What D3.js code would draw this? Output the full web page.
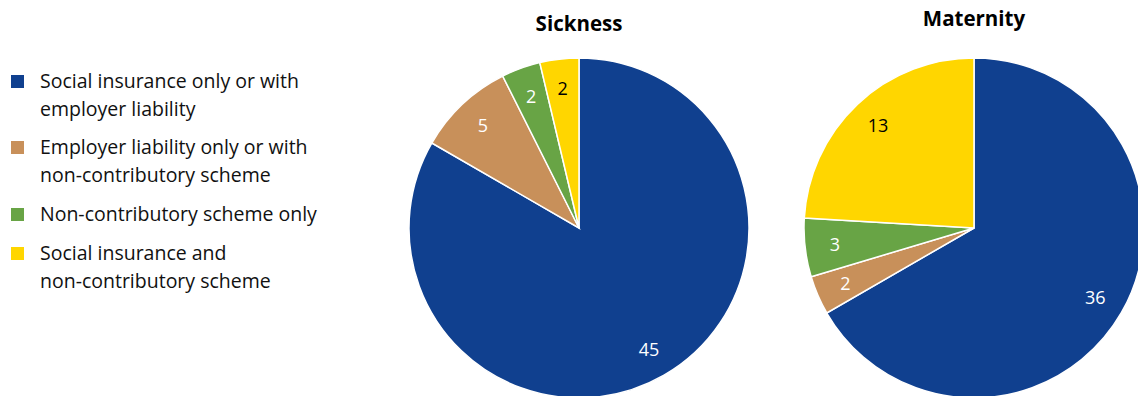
<!DOCTYPE html>
<html>
<head>
<meta charset="utf-8">
<script src="https://cdn.jsdelivr.net/npm/d3@7"></script>
<style>
  body { margin: 0; background: #fff; }
  svg { display: block; font-family: "Open Sans", sans-serif; }
</style>
</head>
<body>
<div id="chart"></div>
<script>
var w = 1138;
var h = 396;

// data
var categories = [
  ["Social insurance only or with", "employer liability"],
  ["Employer liability only or with", "non-contributory scheme"],
  ["Non-contributory scheme only"],
  ["Social insurance and", "non-contributory scheme"]
];
var colors = ["#10408F", "#C8905A", "#68A445", "#FFD600"];
var labelColors = ["#fff", "#fff", "#fff", "#000"];
var titles = ["Sickness", "Maternity"];
var sickness = [45, 5, 2, 2];
var maternity = [36, 2, 3, 13];

var svg = d3.select("#chart")
  .append("svg")
  .attr("width", w)
  .attr("height", h);

// legend
var legendY = [81, 147, 214, 253];
var legend = svg.append("g");
categories.forEach(function(lines, i) {
  legend.append("rect")
    .attr("x", 11)
    .attr("y", legendY[i] - 6)
    .attr("width", 13)
    .attr("height", 13)
    .attr("fill", colors[i]);
  lines.forEach(function(t, j) {
    legend.append("text")
      .attr("x", 40)
      .attr("y", legendY[i] + j * 28)
      .attr("dy", "0.35em")
      .attr("font-size", 19.5)
      .attr("fill", "#111")
      .text(t);
  });
});

// pies
var r = 170;
var pie = d3.pie().sort(null).value(function(d) { return d; });
var arc = d3.arc().innerRadius(0).outerRadius(r);
var labelArc = d3.arc().innerRadius(140).outerRadius(140);

var pies = [
  { title: titles[0], values: sickness, cx: 579, cy: 228, ty: 31 },
  { title: titles[1], values: maternity, cx: 974, cy: 228, ty: 26 }
];

pies.forEach(function(p) {
  svg.append("text")
    .attr("x", p.cx)
    .attr("y", p.ty)
    .attr("text-anchor", "middle")
    .attr("font-size", 20.5)
    .attr("font-weight", "bold")
    .attr("fill", "#000")
    .text(p.title);

  var g = svg.append("g")
    .attr("transform", "translate(" + p.cx + "," + p.cy + ")");

  var arcs = pie(p.values);

  g.selectAll("path")
    .data(arcs)
    .enter()
    .append("path")
    .attr("d", arc)
    .attr("fill", function(d, i) { return colors[i]; })
    .attr("stroke", "#fff")
    .attr("stroke-width", 1.5);

  g.selectAll("text")
    .data(arcs)
    .enter()
    .append("text")
    .attr("transform", function(d) { return "translate(" + labelArc.centroid(d) + ")"; })
    .attr("text-anchor", "middle")
    .attr("dy", "0.35em")
    .attr("font-size", 18)
    .attr("fill", function(d, i) { return labelColors[i]; })
    .text(function(d) { return d.data; });
});
</script>
</body>
</html>
